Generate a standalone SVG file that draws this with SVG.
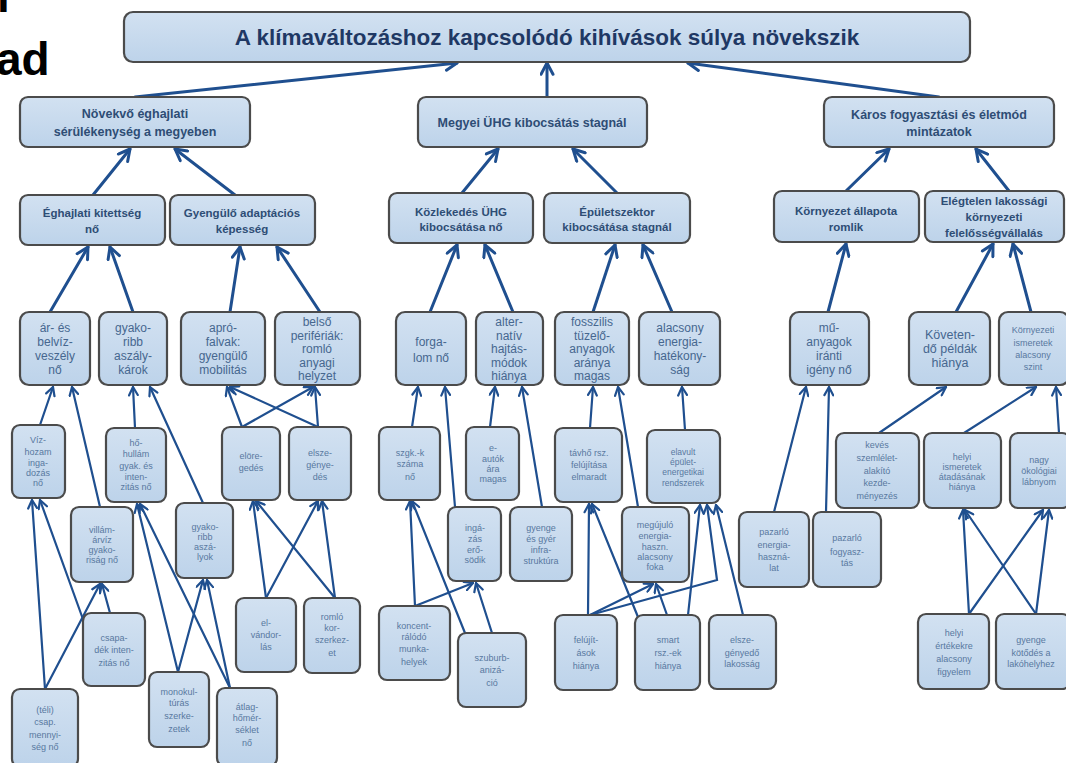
<svg xmlns="http://www.w3.org/2000/svg" width="1066" height="763" viewBox="0 0 1066 763">
<style>
.box{fill:url(#bg);stroke:#4b4b4b;stroke-width:2.2}
text{font-family:"Liberation Sans","Noto Sans",Arial,sans-serif;text-anchor:middle}
.t0{font-size:22.5px;font-weight:bold;fill:#1f3864}
.t1{font-size:12.5px;font-weight:bold;fill:#2e4d75}
.t2{font-size:11.5px;font-weight:bold;fill:#2e4d75}
.t3{font-size:12px;fill:#46678f}
.t4{font-size:9px;fill:#5878a0}
.frag{font-size:46px;font-weight:bold;fill:#000;text-anchor:start}
.c1{stroke:#1f4f8f;stroke-width:3;fill:none;stroke-linecap:round;marker-end:url(#ah)}
.c2{stroke:#1f4f8f;stroke-width:2.2;fill:none;stroke-linecap:round;marker-end:url(#as)}
</style>
<defs>
<linearGradient id="bg" x1="0" y1="0" x2="0" y2="1">
<stop offset="0" stop-color="#d2e1f1"/>
<stop offset="1" stop-color="#bdd3ea"/>
</linearGradient>
<marker id="ah" viewBox="0 0 12 12" refX="10.5" refY="6" markerWidth="15" markerHeight="15" markerUnits="userSpaceOnUse" orient="auto">
<path d="M1.5,1.2 L10.5,6 L1.5,10.8" fill="none" stroke="#1f4f8f" stroke-width="2.4" stroke-linecap="round" stroke-linejoin="round"/>
</marker>
<marker id="as" viewBox="0 0 12 12" refX="10.5" refY="6" markerWidth="11" markerHeight="11" markerUnits="userSpaceOnUse" orient="auto">
<path d="M1.5,1.2 L10.5,6 L1.5,10.8" fill="none" stroke="#1f4f8f" stroke-width="2.4" stroke-linecap="round" stroke-linejoin="round"/>
</marker>
</defs>
<rect width="1066" height="763" fill="#ffffff"/>
<text class="frag" x="-3" y="12">l</text>
<text class="frag" x="-4" y="75">ad</text>

<g id="connectors">
<line class="c1" x1="135" y1="97" x2="457" y2="63"/>
<line class="c1" x1="547" y1="97" x2="547" y2="63"/>
<line class="c1" x1="939" y1="97" x2="688" y2="63"/>
<line class="c1" x1="93" y1="195" x2="130" y2="149"/>
<line class="c1" x1="235" y1="195" x2="175" y2="149"/>
<line class="c1" x1="462" y1="193" x2="498" y2="149"/>
<line class="c1" x1="617" y1="193" x2="573" y2="149"/>
<line class="c1" x1="846" y1="191" x2="889" y2="149"/>
<line class="c1" x1="1009" y1="191" x2="976" y2="149"/>
<line class="c1" x1="50" y1="312" x2="88" y2="247"/>
<line class="c1" x1="133" y1="312" x2="110" y2="247"/>
<line class="c1" x1="230" y1="312" x2="240" y2="247"/>
<line class="c1" x1="320" y1="312" x2="277" y2="247"/>
<line class="c1" x1="430" y1="312" x2="457" y2="245"/>
<line class="c1" x1="513" y1="312" x2="485" y2="245"/>
<line class="c1" x1="593" y1="312" x2="615" y2="245"/>
<line class="c1" x1="672" y1="312" x2="643" y2="245"/>
<line class="c1" x1="828" y1="312" x2="846" y2="244"/>
<line class="c1" x1="956" y1="312" x2="993" y2="244"/>
<line class="c1" x1="1031" y1="312" x2="1013" y2="244"/>
<line class="c2" x1="40" y1="425" x2="53" y2="387"/>
<line class="c2" x1="100" y1="507" x2="72" y2="387"/>
<line class="c2" x1="135" y1="428" x2="133" y2="387"/>
<line class="c2" x1="203" y1="503" x2="150" y2="387"/>
<line class="c2" x1="242" y1="427" x2="227" y2="387"/>
<line class="c2" x1="242" y1="427" x2="313" y2="387"/>
<line class="c2" x1="318" y1="427" x2="230" y2="387"/>
<line class="c2" x1="318" y1="427" x2="315" y2="387"/>
<line class="c2" x1="412" y1="427" x2="418" y2="387"/>
<line class="c2" x1="455" y1="507" x2="445" y2="387"/>
<line class="c2" x1="490" y1="427" x2="495" y2="387"/>
<line class="c2" x1="542" y1="507" x2="522" y2="387"/>
<line class="c2" x1="590" y1="428" x2="593" y2="387"/>
<line class="c2" x1="638" y1="507" x2="618" y2="387"/>
<line class="c2" x1="685" y1="430" x2="682" y2="387"/>
<line class="c2" x1="774" y1="512" x2="806" y2="387"/>
<line class="c2" x1="826" y1="512" x2="829" y2="387"/>
<line class="c2" x1="879" y1="433" x2="946" y2="387"/>
<line class="c2" x1="964" y1="433" x2="1036" y2="387"/>
<line class="c2" x1="1059" y1="433" x2="1056" y2="387"/>
<line class="c2" x1="45" y1="689" x2="32" y2="500"/>
<line class="c2" x1="45" y1="689" x2="100" y2="584"/>
<line class="c2" x1="84" y1="622" x2="40" y2="500"/>
<line class="c2" x1="110" y1="613" x2="102" y2="584"/>
<line class="c2" x1="178" y1="672" x2="137" y2="504"/>
<line class="c2" x1="230" y1="688" x2="140" y2="504"/>
<line class="c2" x1="178" y1="672" x2="203" y2="580"/>
<line class="c2" x1="230" y1="688" x2="207" y2="580"/>
<line class="c2" x1="266" y1="598" x2="253" y2="501"/>
<line class="c2" x1="266" y1="598" x2="318" y2="501"/>
<line class="c2" x1="335" y1="598" x2="256" y2="501"/>
<line class="c2" x1="335" y1="598" x2="322" y2="501"/>
<line class="c2" x1="415" y1="606" x2="410" y2="501"/>
<line class="c2" x1="465" y1="633" x2="412" y2="501"/>
<line class="c2" x1="415" y1="606" x2="473" y2="583"/>
<line class="c2" x1="492" y1="633" x2="476" y2="583"/>
<line class="c2" x1="588" y1="615" x2="589" y2="504"/>
<line class="c2" x1="638" y1="617" x2="592" y2="504"/>
<line class="c2" x1="590" y1="615" x2="653" y2="584"/>
<line class="c2" x1="667" y1="615" x2="656" y2="584"/>
<polyline class="c2" points="590,615 717,580 707,505"/>
<line class="c2" x1="688" y1="615" x2="700" y2="505"/>
<line class="c2" x1="743" y1="615" x2="716" y2="505"/>
<line class="c2" x1="969" y1="614" x2="963" y2="510"/>
<line class="c2" x1="969" y1="614" x2="1043" y2="510"/>
<line class="c2" x1="1036" y1="614" x2="965" y2="510"/>
<line class="c2" x1="1036" y1="614" x2="1049" y2="510"/>
</g>

<g id="n-title"><rect class="box" x="124" y="12" width="846" height="50" rx="9"/><text class="t0" x="547" y="45">A klímaváltozáshoz kapcsolódó kihívások súlya növekszik</text></g>

<g id="n-novekvo"><rect class="box" x="20" y="97" width="230" height="50" rx="8"/><text class="t1"><tspan x="135" y="117.5">Növekvő éghajlati</tspan><tspan x="135" y="135.5">sérülékenység a megyeben</tspan></text></g>
<g id="n-megyei"><rect class="box" x="418" y="97" width="229" height="50" rx="8"/><text class="t1" x="532" y="127">Megyei ÜHG kibocsátás stagnál</text></g>
<g id="n-karos"><rect class="box" x="824" y="97" width="230" height="50" rx="8"/><text class="t1"><tspan x="939" y="119">Káros fogyasztási és életmód</tspan><tspan x="939" y="136">mintázatok</tspan></text></g>

<g id="n-eghajlati"><rect class="box" x="20" y="195" width="145" height="50" rx="8"/><text class="t2"><tspan x="92" y="217">Éghajlati kitettség</tspan><tspan x="92" y="233">nő</tspan></text></g>
<g id="n-gyengulo"><rect class="box" x="170" y="195" width="145" height="50" rx="8"/><text class="t2"><tspan x="242" y="217">Gyengülő adaptációs</tspan><tspan x="242" y="233">képesség</tspan></text></g>
<g id="n-kozlekedes"><rect class="box" x="389" y="193" width="144" height="50" rx="8"/><text class="t2"><tspan x="461" y="216">Közlekedés ÜHG</tspan><tspan x="461" y="231">kibocsátása nő</tspan></text></g>
<g id="n-epulet"><rect class="box" x="544" y="193" width="146" height="50" rx="8"/><text class="t2"><tspan x="617" y="216">Épületszektor</tspan><tspan x="617" y="231">kibocsátása stagnál</tspan></text></g>
<g id="n-kornyezet"><rect class="box" x="774" y="191" width="145" height="51" rx="8"/><text class="t2"><tspan x="846" y="215">Környezet állapota</tspan><tspan x="846" y="231">romlik</tspan></text></g>
<g id="n-elegtelen"><rect class="box" x="925" y="191" width="139" height="51" rx="8"/><text class="t2"><tspan x="994" y="205">Elégtelen lakossági</tspan><tspan x="994" y="221">környezeti</tspan><tspan x="994" y="237">felelősségvállalás</tspan></text></g>

<g id="n-arvíz"><rect class="box" x="20" y="312" width="70" height="73" rx="9"/><text class="t3"><tspan x="55" y="332">ár- és</tspan><tspan x="55" y="346">belvíz-</tspan><tspan x="55" y="360">veszély</tspan><tspan x="55" y="374">nő</tspan></text></g>
<g id="n-aszalykarok"><rect class="box" x="99" y="312" width="68" height="73" rx="9"/><text class="t3"><tspan x="133" y="332">gyako-</tspan><tspan x="133" y="346">ribb</tspan><tspan x="133" y="360">aszály-</tspan><tspan x="133" y="374">károk</tspan></text></g>
<g id="n-aprofalvak"><rect class="box" x="181" y="312" width="84" height="73" rx="9"/><text class="t3"><tspan x="223" y="332">apró-</tspan><tspan x="223" y="346">falvak:</tspan><tspan x="223" y="360">gyengülő</tspan><tspan x="223" y="374">mobilitás</tspan></text></g>
<g id="n-belso"><rect class="box" x="275" y="312" width="85" height="73" rx="9"/><text class="t3"><tspan x="317" y="326">belső</tspan><tspan x="317" y="339.5">perifériák:</tspan><tspan x="317" y="353">romló</tspan><tspan x="317" y="366.5">anyagi</tspan><tspan x="317" y="380">helyzet</tspan></text></g>
<g id="n-forgalom"><rect class="box" x="396" y="312" width="70" height="73" rx="9"/><text class="t3"><tspan x="431" y="346">forga-</tspan><tspan x="431" y="362">lom nő</tspan></text></g>
<g id="n-alternativ"><rect class="box" x="476" y="312" width="67" height="73" rx="9"/><text class="t3"><tspan x="509" y="326">alter-</tspan><tspan x="509" y="339.5">natív</tspan><tspan x="509" y="353">hajtás-</tspan><tspan x="509" y="366.5">módok</tspan><tspan x="509" y="380">hiánya</tspan></text></g>
<g id="n-fosszilis"><rect class="box" x="555" y="312" width="74" height="73" rx="9"/><text class="t3"><tspan x="592" y="326">fosszilis</tspan><tspan x="592" y="339.5">tüzelő-</tspan><tspan x="592" y="353">anyagok</tspan><tspan x="592" y="366.5">aránya</tspan><tspan x="592" y="380">magas</tspan></text></g>
<g id="n-alacsonyenergia"><rect class="box" x="639" y="312" width="81" height="73" rx="9"/><text class="t3"><tspan x="680" y="332">alacsony</tspan><tspan x="680" y="346">energia-</tspan><tspan x="680" y="360">hatékony-</tspan><tspan x="680" y="374">ság</tspan></text></g>
<g id="n-muanyag"><rect class="box" x="790" y="312" width="79" height="73" rx="9"/><text class="t3"><tspan x="829" y="332">mű-</tspan><tspan x="829" y="346">anyagok</tspan><tspan x="829" y="360">iránti</tspan><tspan x="829" y="374">igény nő</tspan></text></g>
<g id="n-kovetendo"><rect class="box" x="909" y="312" width="81" height="73" rx="9"/><text class="t3" style="font-size:12.5px"><tspan x="950" y="339">Követen-</tspan><tspan x="950" y="353">dő példák</tspan><tspan x="950" y="367">hiánya</tspan></text></g>
<g id="n-ismeretek"><rect class="box" x="999" y="312" width="70" height="73" rx="9"/><text class="t4"><tspan x="1033" y="333">Környezeti</tspan><tspan x="1033" y="346">ismeretek</tspan><tspan x="1033" y="358">alacsony</tspan><tspan x="1033" y="370">szint</tspan></text></g>

<g id="n-vizhozam"><rect class="box" x="12" y="425" width="53" height="73" rx="8"/><text class="t4"><tspan x="38" y="443">Víz-</tspan><tspan x="38" y="455">hozam</tspan><tspan x="38" y="466">inga-</tspan><tspan x="38" y="476">dozás</tspan><tspan x="38" y="486">nő</tspan></text></g>
<g id="n-hohullam"><rect class="box" x="106" y="428" width="60" height="74" rx="8"/><text class="t4"><tspan x="136" y="446">hő-</tspan><tspan x="136" y="457">hullám</tspan><tspan x="136" y="469">gyak. és</tspan><tspan x="136" y="480">inten-</tspan><tspan x="136" y="490">zitás nő</tspan></text></g>
<g id="n-elorege"><rect class="box" x="222" y="427" width="58" height="73" rx="8"/><text class="t4"><tspan x="251" y="459">elöre-</tspan><tspan x="251" y="471">gedés</tspan></text></g>
<g id="n-elszegenyedes"><rect class="box" x="289" y="427" width="62" height="73" rx="8"/><text class="t4"><tspan x="320" y="456">elsze-</tspan><tspan x="320" y="468">génye-</tspan><tspan x="320" y="480">dés</tspan></text></g>
<g id="n-szgk"><rect class="box" x="379" y="427" width="61" height="73" rx="8"/><text class="t4"><tspan x="410" y="456">szgk.-k</tspan><tspan x="410" y="467">száma</tspan><tspan x="410" y="480">nő</tspan></text></g>
<g id="n-eauto"><rect class="box" x="466" y="427" width="53" height="73" rx="8"/><text class="t4"><tspan x="493" y="451">e-</tspan><tspan x="493" y="462">autók</tspan><tspan x="493" y="472">ára</tspan><tspan x="493" y="482">magas</tspan></text></g>
<g id="n-tavho"><rect class="box" x="555" y="428" width="67" height="74" rx="8"/><text class="t4"><tspan x="589" y="456">távhő rsz.</tspan><tspan x="589" y="468">felújítása</tspan><tspan x="589" y="480">elmaradt</tspan></text></g>
<g id="n-epuletenerg"><rect class="box" x="647" y="430" width="73" height="73" rx="8"/><text class="t4" style="font-size:8.5px"><tspan x="683" y="455">elavult</tspan><tspan x="683" y="465">épület-</tspan><tspan x="683" y="475">energetikai</tspan><tspan x="683" y="486">rendszerek</tspan></text></g>
<g id="n-keves"><rect class="box" x="836" y="433" width="83" height="75" rx="8"/><text class="t4"><tspan x="877" y="448">kevés</tspan><tspan x="877" y="461">szemlélet-</tspan><tspan x="877" y="474">alakító</tspan><tspan x="877" y="486">kezde-</tspan><tspan x="877" y="499">ményezés</tspan></text></g>
<g id="n-helyiism"><rect class="box" x="924" y="433" width="77" height="75" rx="8"/><text class="t4"><tspan x="962" y="460">helyi</tspan><tspan x="962" y="470">ismeretek</tspan><tspan x="962" y="480">átadásának</tspan><tspan x="962" y="490">hiánya</tspan></text></g>
<g id="n-nagy"><rect class="box" x="1010" y="433" width="60" height="75" rx="8"/><text class="t4"><tspan x="1039" y="463">nagy</tspan><tspan x="1039" y="474">ökológiai</tspan><tspan x="1039" y="485">lábnyom</tspan></text></g>

<g id="n-villamarviz"><rect class="box" x="71" y="507" width="62" height="75" rx="8"/><text class="t4"><tspan x="102" y="533">villám-</tspan><tspan x="102" y="543">árvíz</tspan><tspan x="102" y="553">gyako-</tspan><tspan x="102" y="563">riság nő</tspan></text></g>
<g id="n-gyakoaszaly"><rect class="box" x="176" y="503" width="57" height="75" rx="8"/><text class="t4"><tspan x="205" y="530">gyako-</tspan><tspan x="205" y="540">ribb</tspan><tspan x="205" y="550">aszá-</tspan><tspan x="205" y="560">lyok</tspan></text></g>
<g id="n-csapadek"><rect class="box" x="83" y="613" width="62" height="73" rx="8"/><text class="t4"><tspan x="114" y="641">csapa-</tspan><tspan x="114" y="653">dék inten-</tspan><tspan x="114" y="666">zitás nő</tspan></text></g>
<g id="n-teli"><rect class="box" x="12" y="689" width="66" height="78" rx="8"/><text class="t4"><tspan x="45" y="713">(téli)</tspan><tspan x="45" y="725">csap.</tspan><tspan x="45" y="738">mennyi-</tspan><tspan x="45" y="750">ség nő</tspan></text></g>
<g id="n-monokultura"><rect class="box" x="149" y="672" width="60" height="75" rx="8"/><text class="t4"><tspan x="179" y="695">monokul-</tspan><tspan x="179" y="706">túrás</tspan><tspan x="179" y="719">szerke-</tspan><tspan x="179" y="732">zetek</tspan></text></g>
<g id="n-atlaghomerseklet"><rect class="box" x="217" y="688" width="60" height="78" rx="8"/><text class="t4"><tspan x="247" y="710">átlag-</tspan><tspan x="247" y="721">hőmér-</tspan><tspan x="247" y="733">séklet</tspan><tspan x="247" y="746">nő</tspan></text></g>
<g id="n-elvandorlas"><rect class="box" x="236" y="598" width="60" height="74" rx="8"/><text class="t4"><tspan x="266" y="626">el-</tspan><tspan x="266" y="638">vándor-</tspan><tspan x="266" y="650">lás</tspan></text></g>
<g id="n-korszerkezet"><rect class="box" x="304" y="598" width="56" height="75" rx="8"/><text class="t4"><tspan x="332" y="620">romló</tspan><tspan x="332" y="631">kor-</tspan><tspan x="332" y="643">szerkez-</tspan><tspan x="332" y="656">et</tspan></text></g>
<g id="n-ingazas"><rect class="box" x="448" y="507" width="53" height="74" rx="8"/><text class="t4"><tspan x="475" y="531">ingá-</tspan><tspan x="475" y="542">zás</tspan><tspan x="475" y="553">erő-</tspan><tspan x="475" y="563">södik</tspan></text></g>
<g id="n-infra"><rect class="box" x="510" y="507" width="62" height="74" rx="8"/><text class="t4"><tspan x="541" y="531">gyenge</tspan><tspan x="541" y="542">és gyér</tspan><tspan x="541" y="553">infra-</tspan><tspan x="541" y="564">struktúra</tspan></text></g>
<g id="n-koncentralodo"><rect class="box" x="379" y="606" width="71" height="74" rx="8"/><text class="t4"><tspan x="414" y="629">koncent-</tspan><tspan x="414" y="640">rálódó</tspan><tspan x="414" y="652">munka-</tspan><tspan x="414" y="665">helyek</tspan></text></g>
<g id="n-szuburb"><rect class="box" x="458" y="633" width="68" height="74" rx="8"/><text class="t4"><tspan x="492" y="661">szuburb-</tspan><tspan x="492" y="673">anizá-</tspan><tspan x="492" y="686">ció</tspan></text></g>
<g id="n-megujulo"><rect class="box" x="622" y="507" width="67" height="75" rx="8"/><text class="t4"><tspan x="655" y="528">megújuló</tspan><tspan x="655" y="539">energia-</tspan><tspan x="655" y="550">haszn.</tspan><tspan x="655" y="560">alacsony</tspan><tspan x="655" y="570">foka</tspan></text></g>
<g id="n-felujitasok"><rect class="box" x="555" y="615" width="62" height="75" rx="8"/><text class="t4"><tspan x="586" y="643">felújít-</tspan><tspan x="586" y="656">ások</tspan><tspan x="586" y="669">hiánya</tspan></text></g>
<g id="n-smart"><rect class="box" x="635" y="615" width="65" height="75" rx="8"/><text class="t4"><tspan x="668" y="643">smart</tspan><tspan x="668" y="656">rsz.-ek</tspan><tspan x="668" y="669">hiánya</tspan></text></g>
<g id="n-elszelakossag"><rect class="box" x="709" y="615" width="67" height="74" rx="8"/><text class="t4"><tspan x="742" y="643">elsze-</tspan><tspan x="742" y="656">gényedő</tspan><tspan x="742" y="667">lakosság</tspan></text></g>
<g id="n-pazarloenergia"><rect class="box" x="739" y="512" width="70" height="75" rx="8"/><text class="t4"><tspan x="774" y="535">pazarló</tspan><tspan x="774" y="548">energia-</tspan><tspan x="774" y="560">haszná-</tspan><tspan x="774" y="571">lat</tspan></text></g>
<g id="n-pazarlofogy"><rect class="box" x="813" y="512" width="68" height="75" rx="8"/><text class="t4"><tspan x="847" y="541">pazarló</tspan><tspan x="847" y="555">fogyasz-</tspan><tspan x="847" y="566">tás</tspan></text></g>
<g id="n-helyiertek"><rect class="box" x="918" y="614" width="71" height="75" rx="8"/><text class="t4"><tspan x="954" y="636">helyi</tspan><tspan x="954" y="649">értékekre</tspan><tspan x="954" y="662">alacsony</tspan><tspan x="954" y="675">figyelem</tspan></text></g>
<g id="n-kotodes"><rect class="box" x="996" y="614" width="74" height="75" rx="8"/><text class="t4"><tspan x="1031" y="643">gyenge</tspan><tspan x="1031" y="656">kötődés a</tspan><tspan x="1031" y="667">lakóhelyhez</tspan></text></g>
</svg>
